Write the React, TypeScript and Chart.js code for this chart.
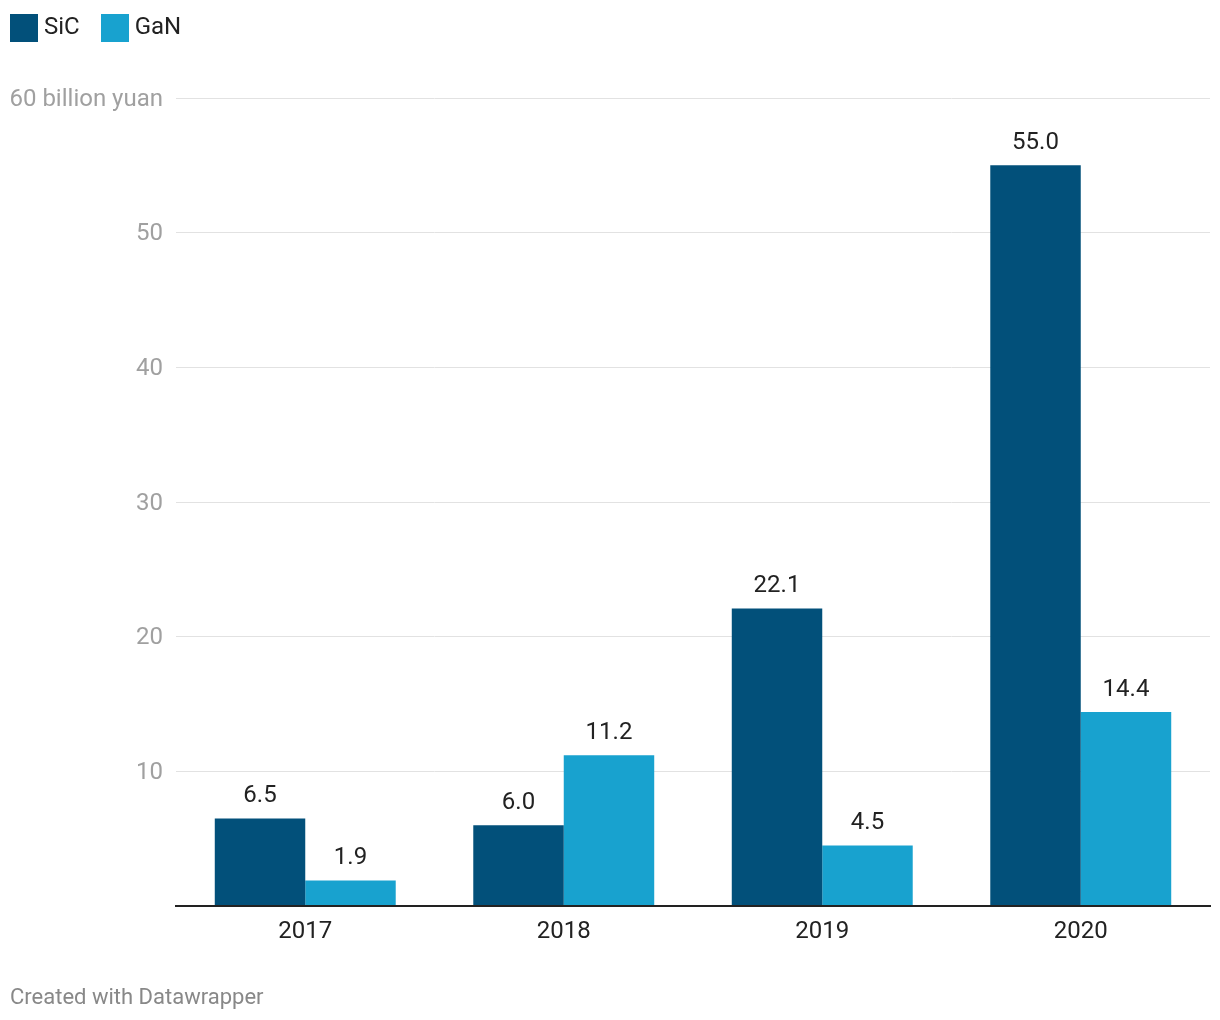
import React, { useEffect, useRef } from "react";
import { Chart, registerables } from "chart.js";

Chart.register(...registerables);

const categories = ["2017", "2018", "2019", "2020"];
const sicValues = [6.5, 6.0, 22.1, 55.0];
const ganValues = [1.9, 11.2, 4.5, 14.4];
const yTicks = [10, 20, 30, 40, 50, 60];
const yTickLabels = ["10", "20", "30", "40", "50", "60 billion yuan"];
const seriesNames = ["SiC", "GaN"];
const seriesColors = ["#02507a", "#18a2cf"];

const FONT = "Roboto, 'Noto Sans', sans-serif";

const customPlugin = {
  id: "custom",
  afterDraw(chart: any) {
    const ctx = chart.ctx;
    const y = chart.scales.y;
    ctx.save();
    ctx.font = `24px ${FONT}`;
    ctx.fillStyle = "#a0a0a0";
    ctx.textAlign = "right";
    ctx.textBaseline = "middle";
    yTicks.forEach((v, i) => {
      ctx.fillText(yTickLabels[i], 163, y.getPixelForValue(v) + 1.5);
    });
    ctx.fillStyle = "#222222";
    ctx.textAlign = "center";
    ctx.textBaseline = "alphabetic";
    chart.data.datasets.forEach((ds: any, di: number) => {
      const meta = chart.getDatasetMeta(di);
      meta.data.forEach((bar: any, i: number) => {
        ctx.fillText(Number(ds.data[i]).toFixed(1), bar.x, bar.y - 16);
      });
    });
    ctx.restore();
  },
};

export default function App() {
  const ref = useRef<HTMLCanvasElement>(null);
  useEffect(() => {
    if (!ref.current) return;
    const chart = new Chart(ref.current, {
      type: "bar",
      data: {
        labels: categories,
        datasets: [
          { label: seriesNames[0], data: sicValues, backgroundColor: seriesColors[0] },
          { label: seriesNames[1], data: ganValues, backgroundColor: seriesColors[1] },
        ],
      },
      options: {
        animation: false,
        responsive: false,
        maintainAspectRatio: false,
        layout: { padding: { left: 176, right: 10, top: 98, bottom: 0 } },
        plugins: { legend: { display: false }, tooltip: { enabled: false } },
        datasets: { bar: { categoryPercentage: 0.7, barPercentage: 1.0 } },
        scales: {
          x: {
            grid: { display: false, drawTicks: false },
            border: { display: true, color: "#222222", width: 2, z: 2 },
            ticks: { color: "#222222", font: { family: FONT, size: 24 }, padding: 12 },
            afterFit: (s: any) => {
              s.height = 114;
            },
          },
          y: {
            min: 0,
            max: 60,
            ticks: { display: false, stepSize: 10 },
            grid: { color: "#e2e2e2", lineWidth: 1, drawTicks: false },
            border: { display: false },
            afterFit: (s: any) => {
              s.width = 0;
            },
          },
        },
      },
      plugins: [customPlugin],
    });
    return () => chart.destroy();
  }, []);

  return (
    <div style={{ position: "fixed", left: 0, top: 0, width: 1220, height: 1020, background: "#fff", fontFamily: FONT }}>
      <canvas ref={ref} width={1220} height={1020} style={{ position: "absolute", left: 0, top: 0 }} />
      <div style={{ position: "absolute", left: 10, top: 12, display: "flex", alignItems: "center", height: 28 }}>
        {seriesNames.map((n, i) => (
          <div key={n} style={{ display: "flex", alignItems: "center", marginRight: 21 }}>
            <div style={{ width: 28, height: 28, background: seriesColors[i], marginRight: 6, position: "relative", top: 2 }} />
            <span style={{ fontSize: 24, color: "#222", lineHeight: "28px" }}>{n}</span>
          </div>
        ))}
      </div>
      <div style={{ position: "absolute", left: 10, top: 983, fontSize: 22, color: "#888888", lineHeight: "28px" }}>
        Created with Datawrapper
      </div>
    </div>
  );
}
